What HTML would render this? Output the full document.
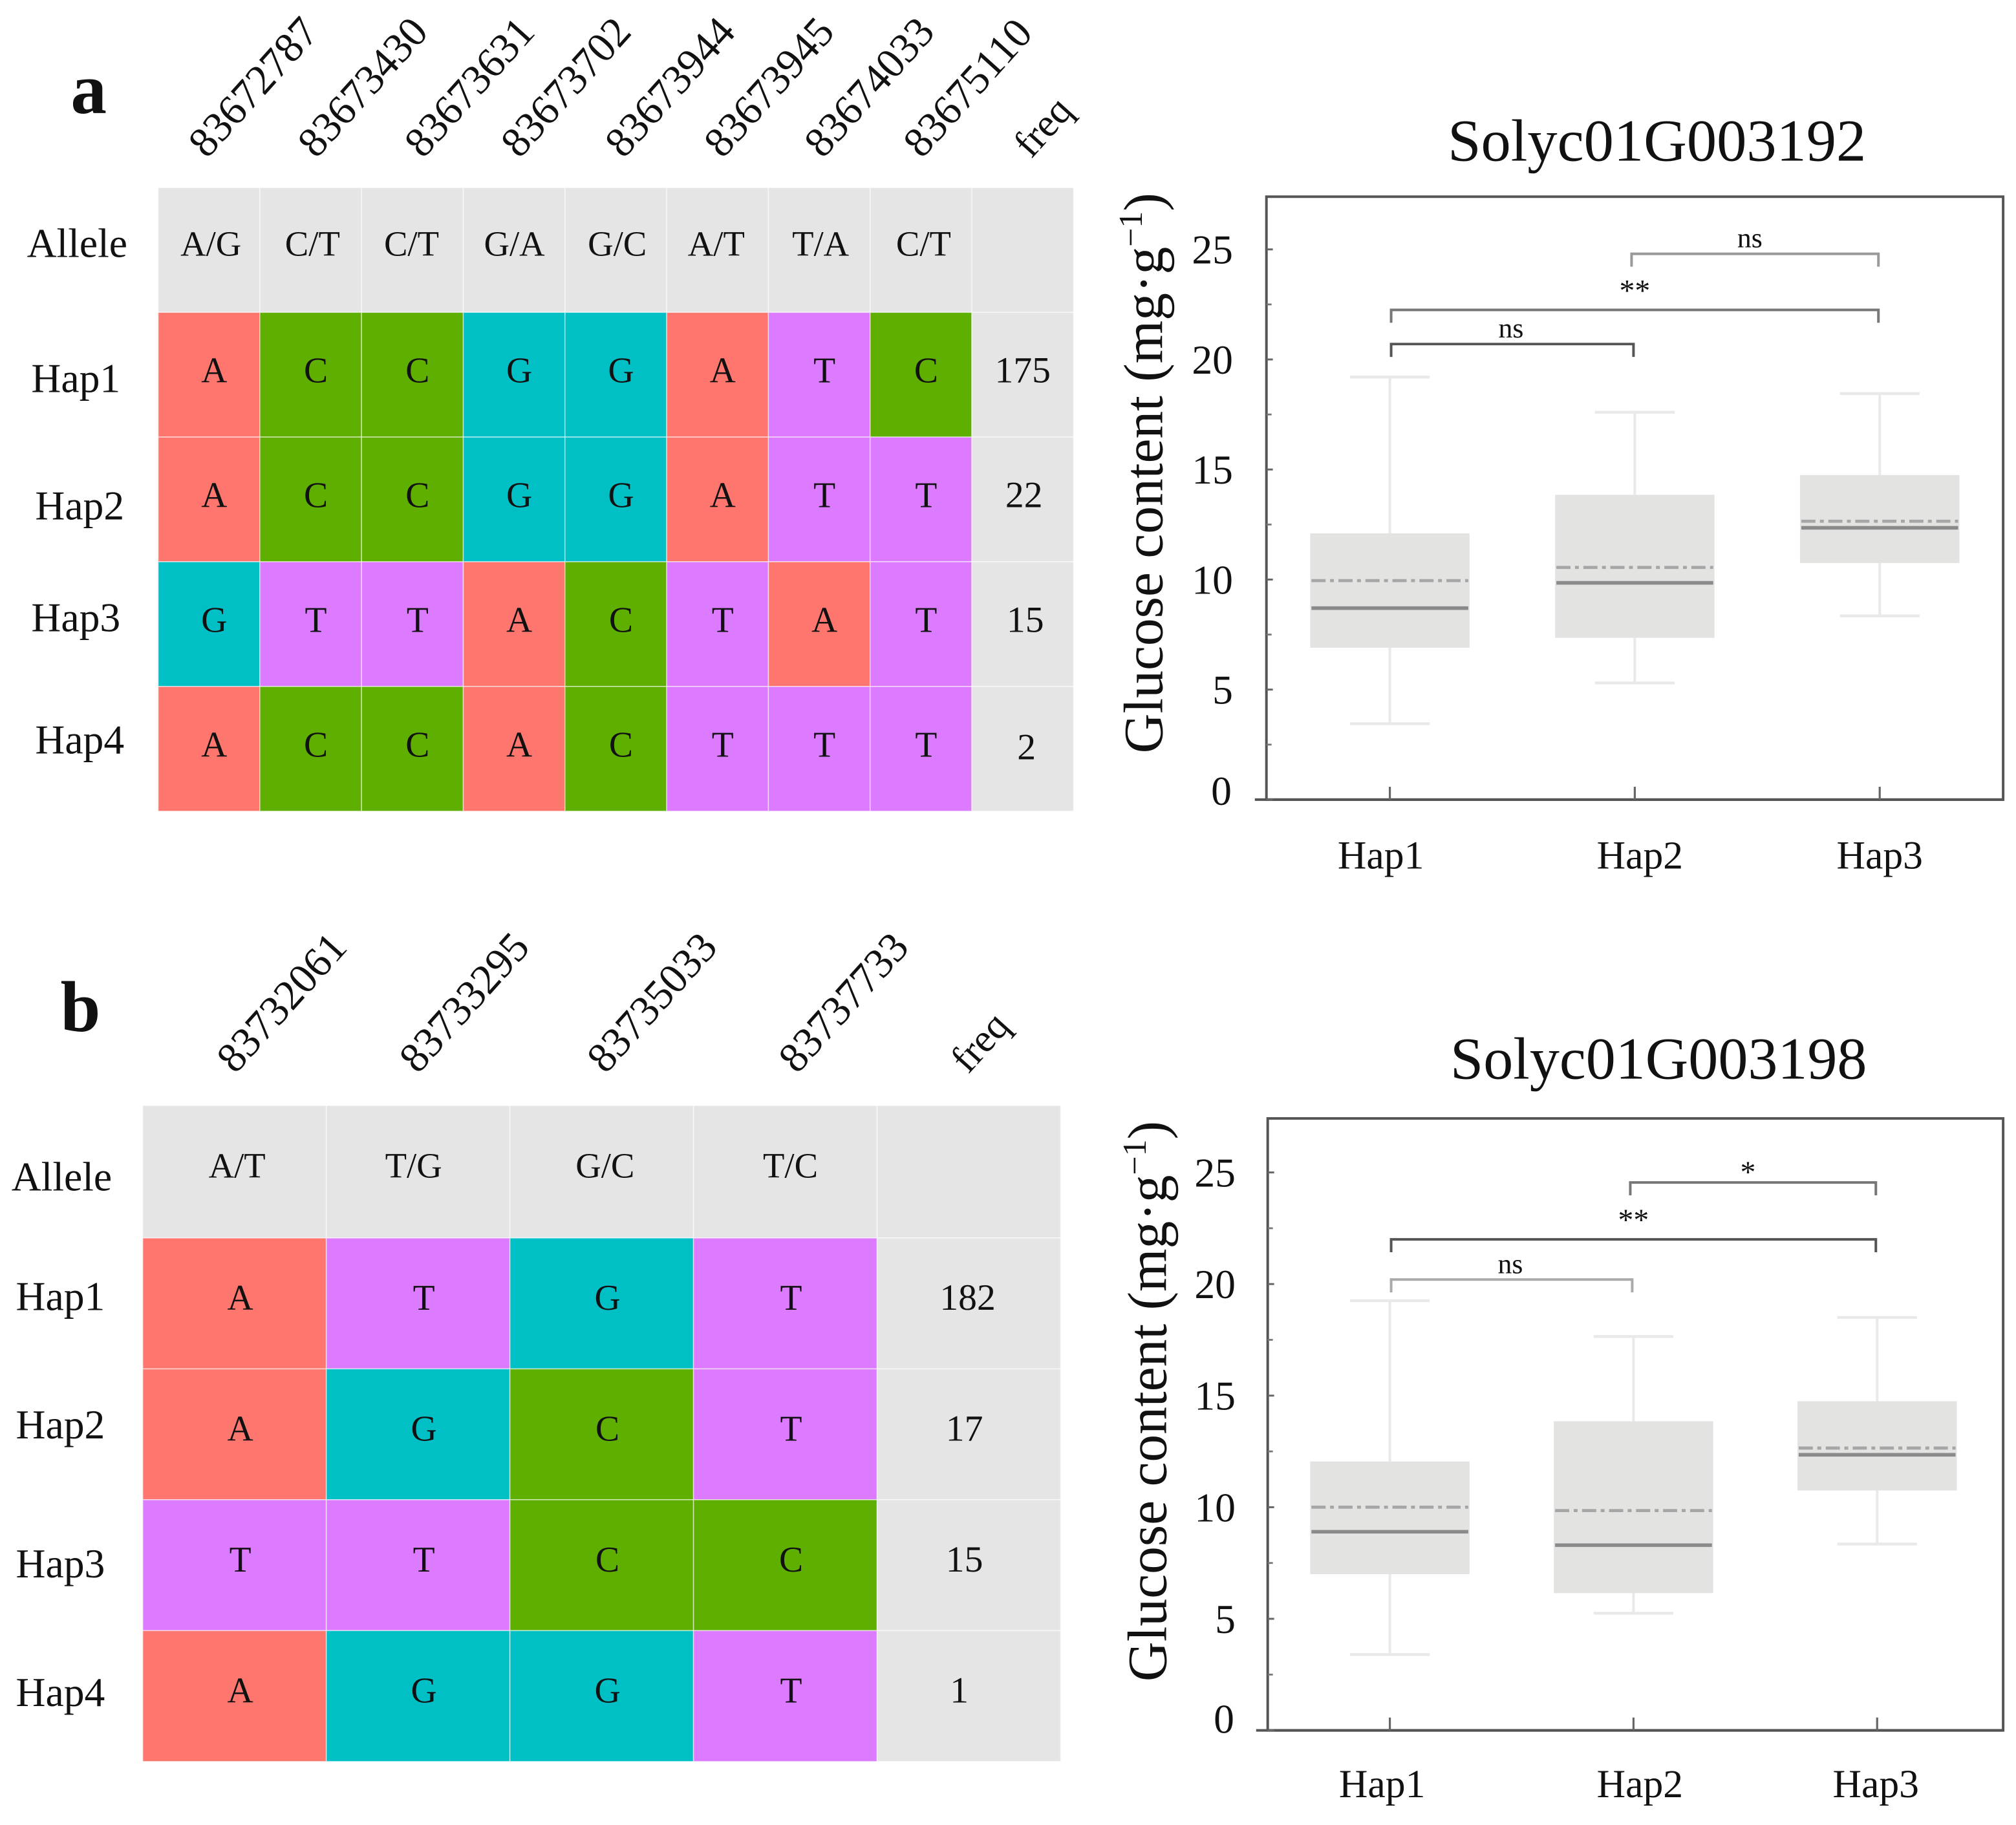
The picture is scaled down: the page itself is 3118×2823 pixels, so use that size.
<!DOCTYPE html>
<html lang="en">
<head>
<meta charset="utf-8">
<title>Haplotype tables and glucose content box plots</title>
<style>
html,body{margin:0;padding:0;background:#fff;width:3118px;height:2823px;overflow:hidden}
svg{display:block}
text{font-family:"Liberation Serif",serif;fill:#111}
</style>
</head>
<body>
<svg id="figure" xmlns="http://www.w3.org/2000/svg" width="3118" height="2823" viewBox="0 0 1568 1419.6" preserveAspectRatio="none">
  <rect x="0" y="0" width="1568" height="1419.6" fill="#fff"/>

  <text x="55" y="88" font-size="56" font-weight="bold" fill="#000">a</text>
  <text x="47" y="802" font-size="56" font-weight="bold" fill="#000">b</text>

  <g id="table-a"></g>
  <g font-size="33">
    <text transform="translate(161,124) rotate(-48)">83672787</text>
    <text transform="translate(246,124) rotate(-48)">83673430</text>
    <text transform="translate(329,124) rotate(-48)">83673631</text>
    <text transform="translate(404,124) rotate(-48)">83673702</text>
    <text transform="translate(485,124) rotate(-48)">83673944</text>
    <text transform="translate(562,124) rotate(-48)">83673945</text>
    <text transform="translate(640,124) rotate(-48)">83674033</text>
    <text transform="translate(717,124) rotate(-48)">83675110</text>
    <text font-size="31" transform="translate(802,124) rotate(-48)">freq</text>
  </g>
  <g font-size="32" text-anchor="middle">
    <text x="60" y="200">Allele</text>
    <text x="59" y="305">Hap1</text>
    <text x="62" y="404">Hap2</text>
    <text x="59" y="491">Hap3</text>
    <text x="62" y="586">Hap4</text>
  </g>

  <g id="table-b"></g>
  <g font-size="33">
    <text transform="translate(183,836) rotate(-48)">83732061</text>
    <text transform="translate(325,836) rotate(-48)">83733295</text>
    <text transform="translate(471,836) rotate(-48)">83735033</text>
    <text transform="translate(620,836) rotate(-48)">83737733</text>
    <text font-size="31" transform="translate(753,836) rotate(-48)">freq</text>
  </g>
  <g font-size="32" text-anchor="middle">
    <text x="48" y="926">Allele</text>
    <text x="47" y="1019">Hap1</text>
    <text x="47" y="1119">Hap2</text>
    <text x="47" y="1227">Hap3</text>
    <text x="47" y="1327">Hap4</text>
  </g>

  <text x="1126" y="125" font-size="46.5">Solyc01G003192</text>
  <text transform="translate(904,586) rotate(-90)" font-size="43">Glucose content (mg·g<tspan font-size="26" dy="-16">−1</tspan><tspan dy="16">)</tspan></text>
  <g id="plot-a"></g>

  <text x="1128" y="839" font-size="46.3">Solyc01G003198</text>
  <text transform="translate(907,1308) rotate(-90)" font-size="43">Glucose content (mg·g<tspan font-size="26" dy="-16">−1</tspan><tspan dy="16">)</tspan></text>
  <g id="plot-b"></g>
</svg>

<script>
// ---- Haplotype table data ----
const allelesA = ["A/G","C/T","C/T","G/A","G/C","A/T","T/A","C/T"];
const genotypesA = [
  ["A","C","C","G","G","A","T","C"],
  ["A","C","C","G","G","A","T","T"],
  ["G","T","T","A","C","T","A","T"],
  ["A","C","C","A","C","T","T","T"]
];
const freqA = ["175","22","15","2"];

const allelesB = ["A/T","T/G","G/C","T/C"];
const genotypesB = [
  ["A","T","G","T"],
  ["A","G","C","T"],
  ["T","T","C","C"],
  ["A","G","G","T"]
];
const freqB = ["182","17","15","1"];

const baseColors = {A:"#FF766E",C:"#5EAF00",G:"#00C0C6",T:"#DC7BFF"};

// ---- Box plot data ----
const categories = ["Hap1","Hap2","Hap3"];
const yTickValues = [0,5,10,15,20,25];
const yMinorValues = [2.5,7.5,12.5,17.5,22.5];

const lowA    = [3.45, 5.3, 8.35];
const q1A     = [6.9, 7.35, 10.75];
const medianA = [8.7, 9.85, 12.35];
const meanA   = [9.95, 10.55, 12.65];
const q3A     = [12.1, 13.85, 14.75];
const highA   = [19.2, 17.6, 18.45];
const bracketStartA = [0, 0, 1];
const bracketEndA   = [1, 2, 2];
const bracketLevelA = [20.7, 22.25, 24.8];
const bracketTextA  = ["ns", "**", "ns"];

const lowB    = [3.4, 5.25, 8.35];
const q1B     = [7.0, 6.15, 10.75];
const medianB = [8.9, 8.3, 12.35];
const meanB   = [10.0, 9.85, 12.65];
const q3B     = [12.05, 13.85, 14.75];
const highB   = [19.25, 17.65, 18.5];
const bracketStartB = [0, 0, 1];
const bracketEndB   = [1, 2, 2];
const bracketLevelB = [20.2, 22.0, 24.55];
const bracketTextB  = ["ns", "**", "*"];

const NS = "http://www.w3.org/2000/svg";
function mk(parent, tag, attrs, txt) {
  const el = document.createElementNS(NS, tag);
  for (const k in attrs) el.setAttribute(k, attrs[k]);
  if (txt !== undefined) el.textContent = txt;
  parent.appendChild(el);
  return el;
}

function drawTable(id, alleles, genotypes, freq, L) {
  const g = document.getElementById(id);
  const nCols = alleles.length + 1;
  const colW = (L.right - L.left) / nCols;
  const colX = c => L.left + c * colW;
  const rowY = r => r === 0 ? L.top : L.firstRow + (r - 1) * L.rowH;
  const rowH = r => r === 0 ? L.firstRow - L.top : L.rowH;

  for (let r = 0; r <= genotypes.length; r++) {
    for (let c = 0; c < nCols; c++) {
      const base = (r > 0 && c < alleles.length) ? genotypes[r-1][c] : null;
      const cell = mk(g, "rect", {x: colX(c), y: rowY(r), width: colW, height: rowH(r),
        fill: base ? baseColors[base] : "#E5E5E5", stroke: "#fff", "stroke-opacity": 0.55, "stroke-width": 0.8});
      
      
    }
  }
  alleles.forEach((a, c) => {
    const t = mk(g, "text", {x: colX(c) + colW/2 + L.alleleDx[c], y: L.alleleY, "font-size": 27.5, "text-anchor": "middle"}, a);
    
    
  });
  genotypes.forEach((row, r) => {
    row.forEach((b, c) => {
      const t = mk(g, "text", {x: colX(c) + colW/2 + L.baseDx, y: rowY(r+1) + L.rowH/2 + L.textDy, "font-size": 28, "text-anchor": "middle"}, b);
      
      
    });
    const f = mk(g, "text", {x: colX(nCols-1) + colW/2 + L.freqDx[r], y: rowY(r+1) + L.rowH/2 + L.textDy + L.freqDy[r], "font-size": 29, "text-anchor": "middle"}, freq[r]);
    
    
  });
}

function drawBoxPlot(id, S, L) {
  const g = document.getElementById(id);
  const xScale = i => L.x0 + i * L.step;
  const yScale = v => L.bottom - v * L.unit;

  categories.forEach((cat, i) => {
    const x = xScale(i);
    const whisker = mk(g, "line", {x1: x, x2: x, y1: yScale(S.high[i]), y2: yScale(S.low[i]), stroke: "#e9e9e9", "stroke-width": 2});
    
    
    [S.high[i], S.low[i]].forEach(v => {
      const cap = mk(g, "line", {x1: x - L.capW, x2: x + L.capW, y1: yScale(v), y2: yScale(v), stroke: "#e9e9e9", "stroke-width": 2.2});
      
      
    });
    const box = mk(g, "rect", {x: x - L.boxW, y: yScale(S.q3[i]), width: 2 * L.boxW, height: yScale(S.q1[i]) - yScale(S.q3[i]), fill: "#E3E4E2"});
    
    
    const mean = mk(g, "line", {x1: x - L.boxW + 1, x2: x + L.boxW - 1, y1: yScale(S.mean[i]), y2: yScale(S.mean[i]), stroke: "#a6a6a6", "stroke-width": 2.4, "stroke-dasharray": "11 3.5 3 3.5"});
    
    
    const median = mk(g, "line", {x1: x - L.boxW + 1, x2: x + L.boxW - 1, y1: yScale(S.median[i]), y2: yScale(S.median[i]), stroke: "#8a8a8a", "stroke-width": 2.8});
    
    
  });

  S.text.forEach((label, b) => {
    const fromMiddle = S.start[b] === 1;
    const x1 = xScale(S.start[b]) + (fromMiddle ? -2.5 : 1), x2 = xScale(S.end[b]) - 1, y = yScale(S.level[b]);
    const stroke = S.strokes[b];
    const path = mk(g, "polyline", {points: x1+","+(y+L.legH)+" "+x1+","+y+" "+x2+","+y+" "+x2+","+(y+L.legH), fill: "none", stroke: stroke, "stroke-width": 2});
    
    
    const lift = label === "**" ? 7 : (label === "*" ? 0 : 5);
    const isStar = label.indexOf("*") >= 0;
    const t = mk(g, "text", {x: (x1 + x2) / 2 + (fromMiddle ? -4 : (S.end[b] === 1 ? -1 : 0)), y: y - lift, "font-size": isStar ? 24 : 22, "text-anchor": "middle", fill: "#555"}, label);
    
    
  });

  const frame = mk(g, "rect", {x: L.left, y: L.top, width: L.right - L.left, height: L.bottom - L.top, fill: "none", stroke: "#555", "stroke-width": 2});
  
  
  const base = mk(g, "line", {x1: L.left - 9, x2: L.right, y1: L.bottom, y2: L.bottom, stroke: "#555", "stroke-width": 2});
  
  

  yTickValues.forEach(v => {
    const tick = mk(g, "line", {x1: L.left, x2: L.left + 5, y1: yScale(v), y2: yScale(v), stroke: "#666", "stroke-width": 1.5});
    
    
    const t = mk(g, "text", {x: L.yLabelX - (v === 0 ? 1 : 0), y: yScale(v) + 11 - (v === 0 ? L.zeroLift : 0), "font-size": 32, "text-anchor": "end", fill: "#333"}, String(v));
    
    
  });
  yMinorValues.forEach(v => {
    const tick = mk(g, "line", {x1: L.left, x2: L.left + 4, y1: yScale(v), y2: yScale(v), stroke: "#777", "stroke-width": 1.4});
    
    
  });
  categories.forEach((cat, i) => {
    const x = xScale(i);
    const tick = mk(g, "line", {x1: x, x2: x, y1: L.bottom - 10, y2: L.bottom, stroke: "#666", "stroke-width": 1.6});
    
    
    const t = mk(g, "text", {x: x + L.xLabelDx[i], y: L.xLabelY, "font-size": 31, "text-anchor": "middle", fill: "#222"}, cat);
    
    
  });
}

drawTable("table-a", allelesA, genotypesA, freqA,
  {left:123, right:835, top:146, firstRow:243, rowH:97, alleleY:199, alleleDx:[1.5,1.4,-0.7,0.2,1.1,-1,1,2], baseDx:4, textDy:6,
   freqDx:[0,1,2,3], freqDy:[0,0,0,2]});
drawTable("table-b", allelesB, genotypesB, freqB,
  {left:111, right:825, top:860, firstRow:963, rowH:101.8, alleleY:916, alleleDx:[2,-3.5,2.6,4], baseDx:4.5, textDy:5,
   freqDx:[-1,-3.5,-3.5,-7.5], freqDy:[0,0,0,0]});

drawBoxPlot("plot-a",
  {low:lowA, q1:q1A, median:medianA, mean:meanA, q3:q3A, high:highA,
   start:bracketStartA, end:bracketEndA, level:bracketLevelA, text:bracketTextA,
   strokes:["#555","#777","#999"]},
  {left:985, right:1558, top:153, bottom:622, unit:17.12, x0:1081, step:190.5, boxW:62, capW:31, legH:10,
   yLabelX:959, zeroLift:7, xLabelY:675.5, xLabelDx:[-7,4,0]});
drawBoxPlot("plot-b",
  {low:lowB, q1:q1B, median:medianB, mean:meanB, q3:q3B, high:highB,
   start:bracketStartB, end:bracketEndB, level:bracketLevelB, text:bracketTextB,
   strokes:["#aaa","#555","#777"]},
  {left:986, right:1558, top:870, bottom:1346, unit:17.36, x0:1081, step:189.5, boxW:62, capW:31, legH:10,
   yLabelX:961, zeroLift:9, xLabelY:1398, xLabelDx:[-6,5,-1]});
</script>
</body>
</html>
